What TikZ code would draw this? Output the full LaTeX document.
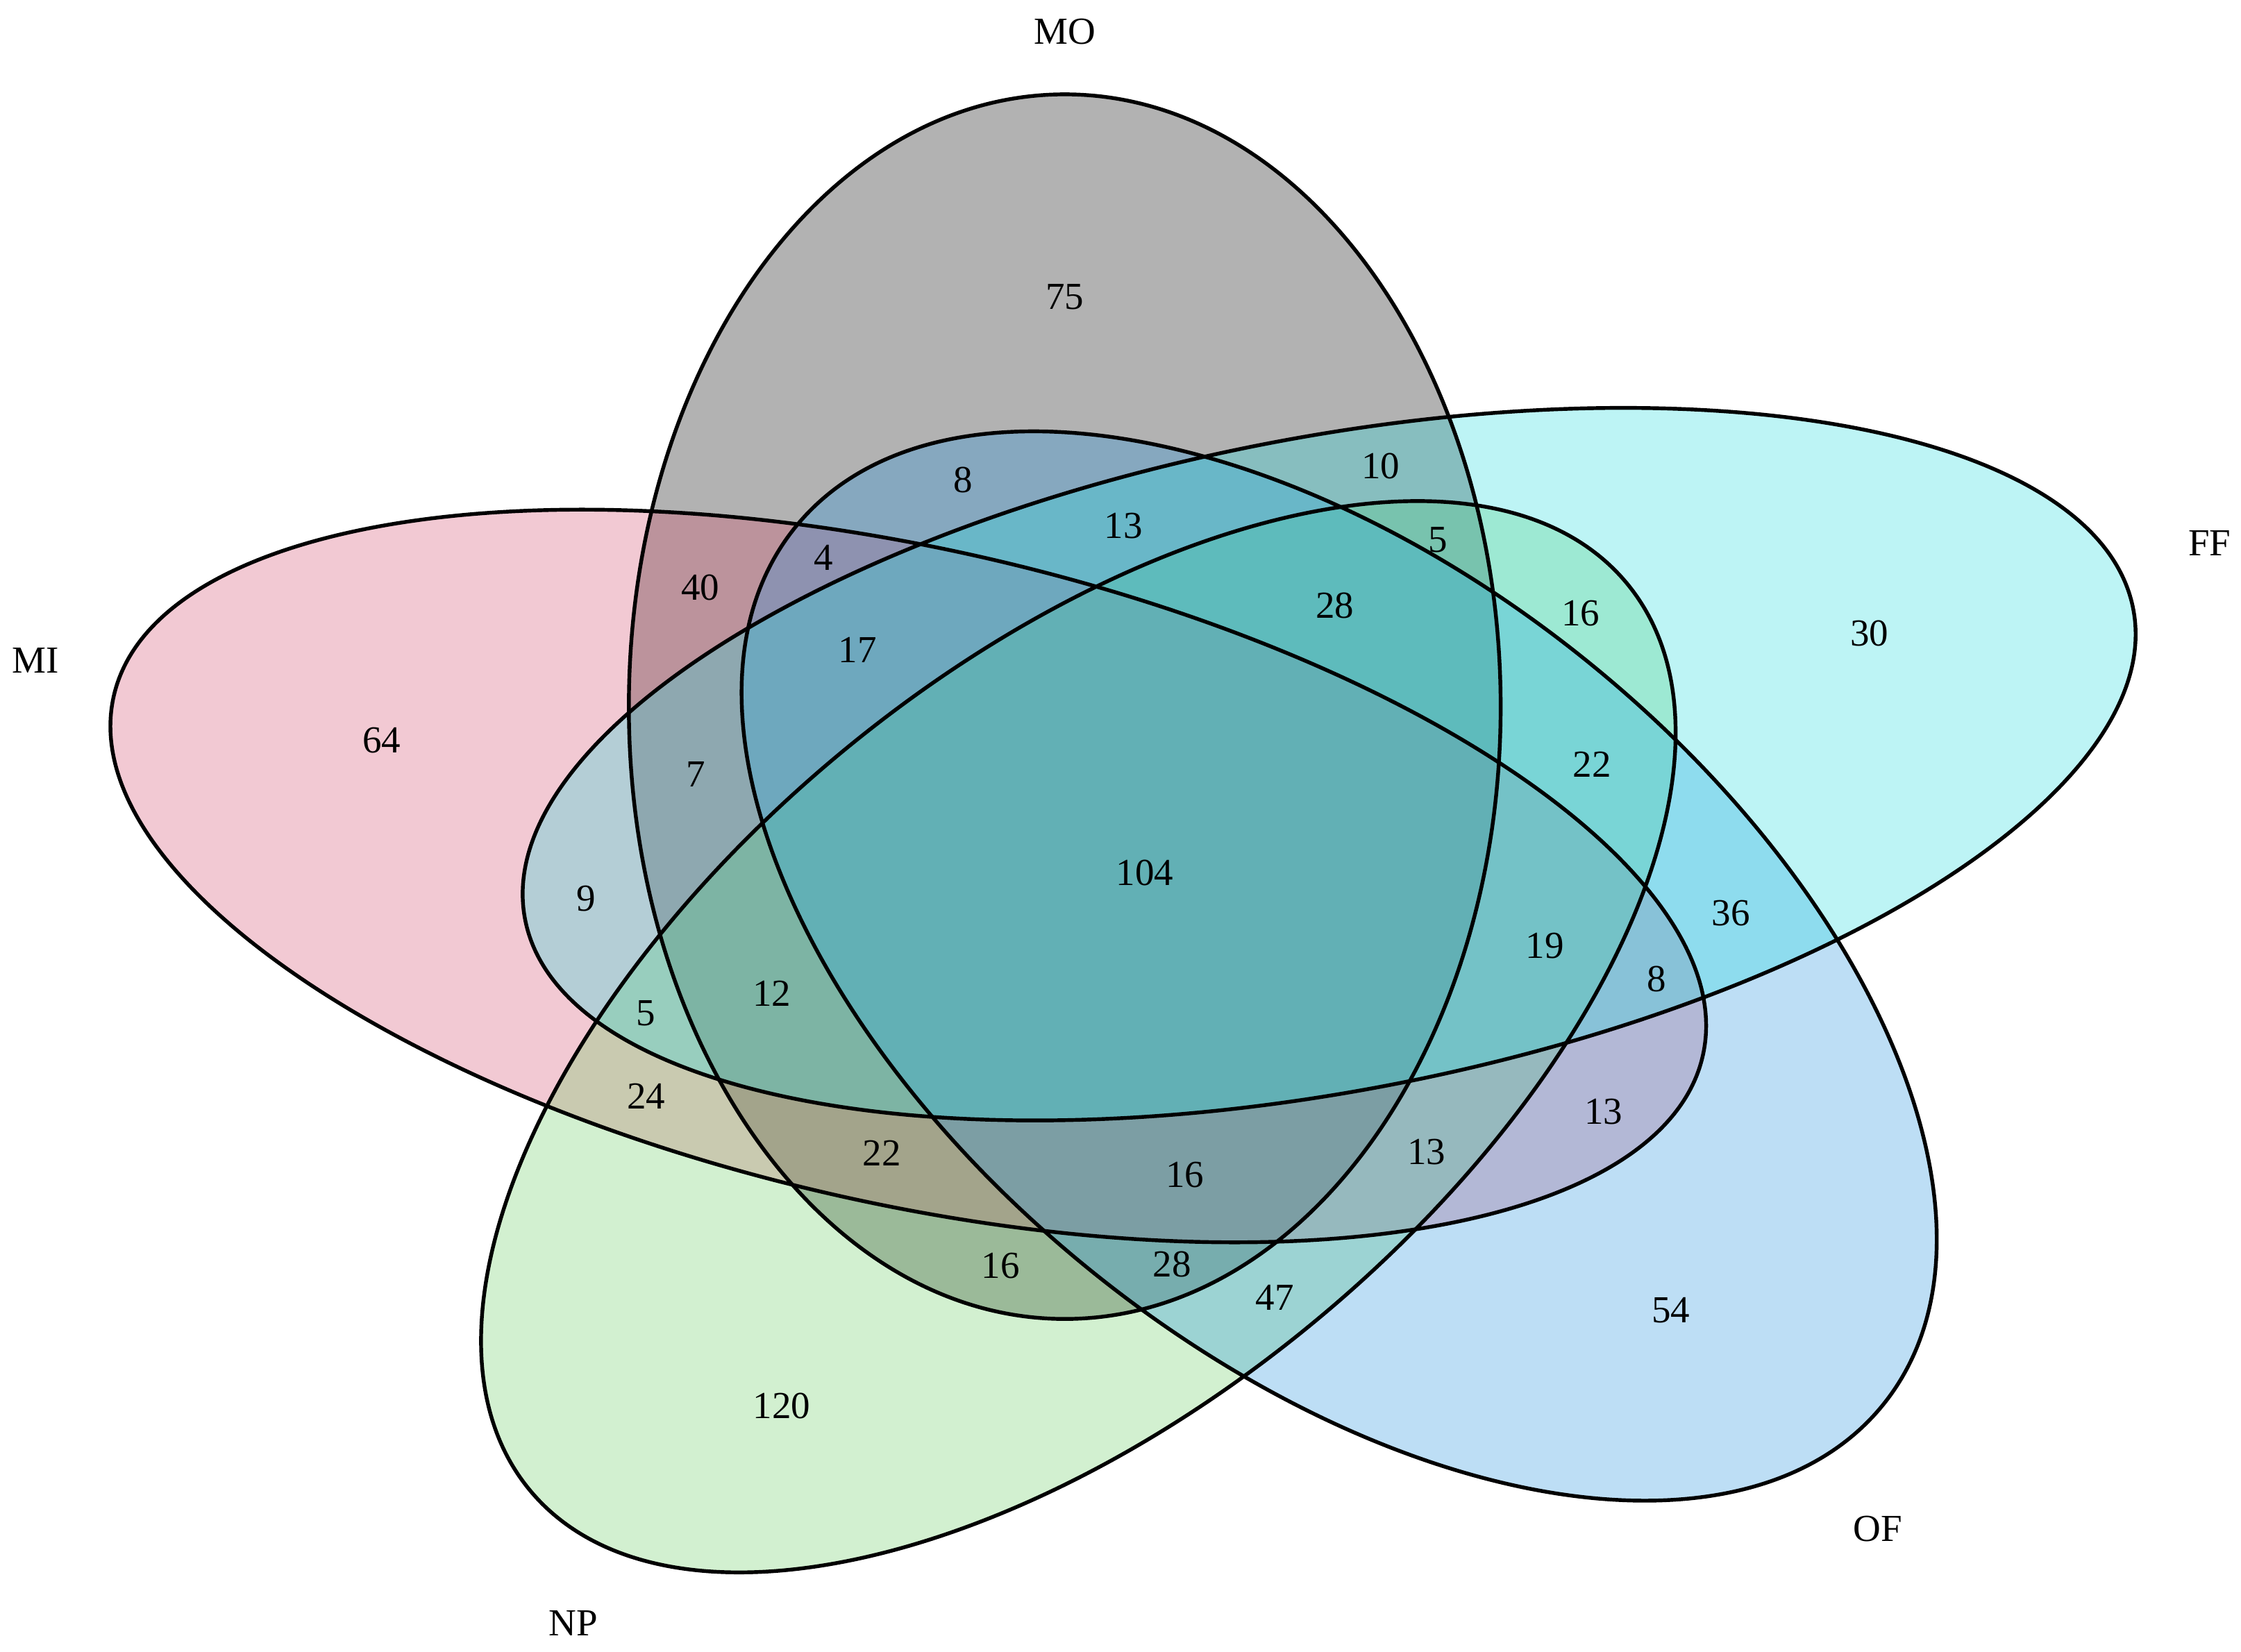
\documentclass[tikz,border=0pt]{standalone}
\usepackage{fontspec}
\setmainfont{Liberation Serif}

\definecolor{colMO}{RGB}{0,0,0}
\definecolor{colMI}{RGB}{212,75,108}
\definecolor{colNP}{RGB}{105,205,98}
\definecolor{colOF}{RGB}{35,145,222}
\definecolor{colFF}{RGB}{38,218,222}

\begin{document}
\begin{tikzpicture}[x=0.01cm,y=-0.01cm,
  venn/.style={fill opacity=0.3},
  rim/.style={line width=0.75pt},
  num/.style={font=\fontsize{7.6}{9}\selectfont,inner sep=0pt}]
 \useasboundingbox (0,0) rectangle (1568,1156); %canvas

 %fills first, outlines after
 \foreach \c/\cx/\cy/\r/\a/\b in {colMO/745/494.5/0/305/428.5,
     colMI/635.5/613/-12.75/570/229, colNP/754.5/725.5/39.57/498/259,
     colOF/937/676/-38.86/489/275, colFF/930/534.75/10.93/573/228.5}
   \fill[\c,venn] (\cx,\cy) ellipse [x radius=\a,y radius=\b,rotate=\r];
 \foreach \cx/\cy/\r/\a/\b in {745/494.5/0/305/428.5,
     635.5/613/-12.75/570/229, 754.5/725.5/39.57/498/259,
     937/676/-38.86/489/275, 930/534.75/10.93/573/228.5}
   \draw[rim] (\cx,\cy) ellipse [x radius=\a,y radius=\b,rotate=\r];

 %set names
 \node[num] (MO) at (745,22) {MO};
 \node[num] (MI) at (25,462) {MI};
 \node[num] (FF) at (1546,380) {FF};
 \node[num] (OF) at (1314,1070) {OF};
 \node[num] (NP) at (401,1136) {NP};

 %region counts
 \foreach \x/\y/\t [count=\i] in {745/208/75, 674/336/8, 966/326/10, 786/368/13,
     1006/378/5, 576/390/4, 490/411/40, 934/424/28, 1106/429/16, 600/455/17,
     1308/443/30, 267/518/64, 487/542/7, 1114/535/22, 801/611/104, 410/629/9,
     1211/639/36, 1081/662/19, 1159/685/8, 540/695/12, 452/709/5, 452/767/24,
     1122/778/13, 617/807/22, 998/806/13, 829/822/16, 700/886/16, 820/885/28,
     892/908/47, 1169/917/54, 547/984/120}
   \node[num] (n\i) at (\x,\y) {\t};
\end{tikzpicture}
\end{document}
